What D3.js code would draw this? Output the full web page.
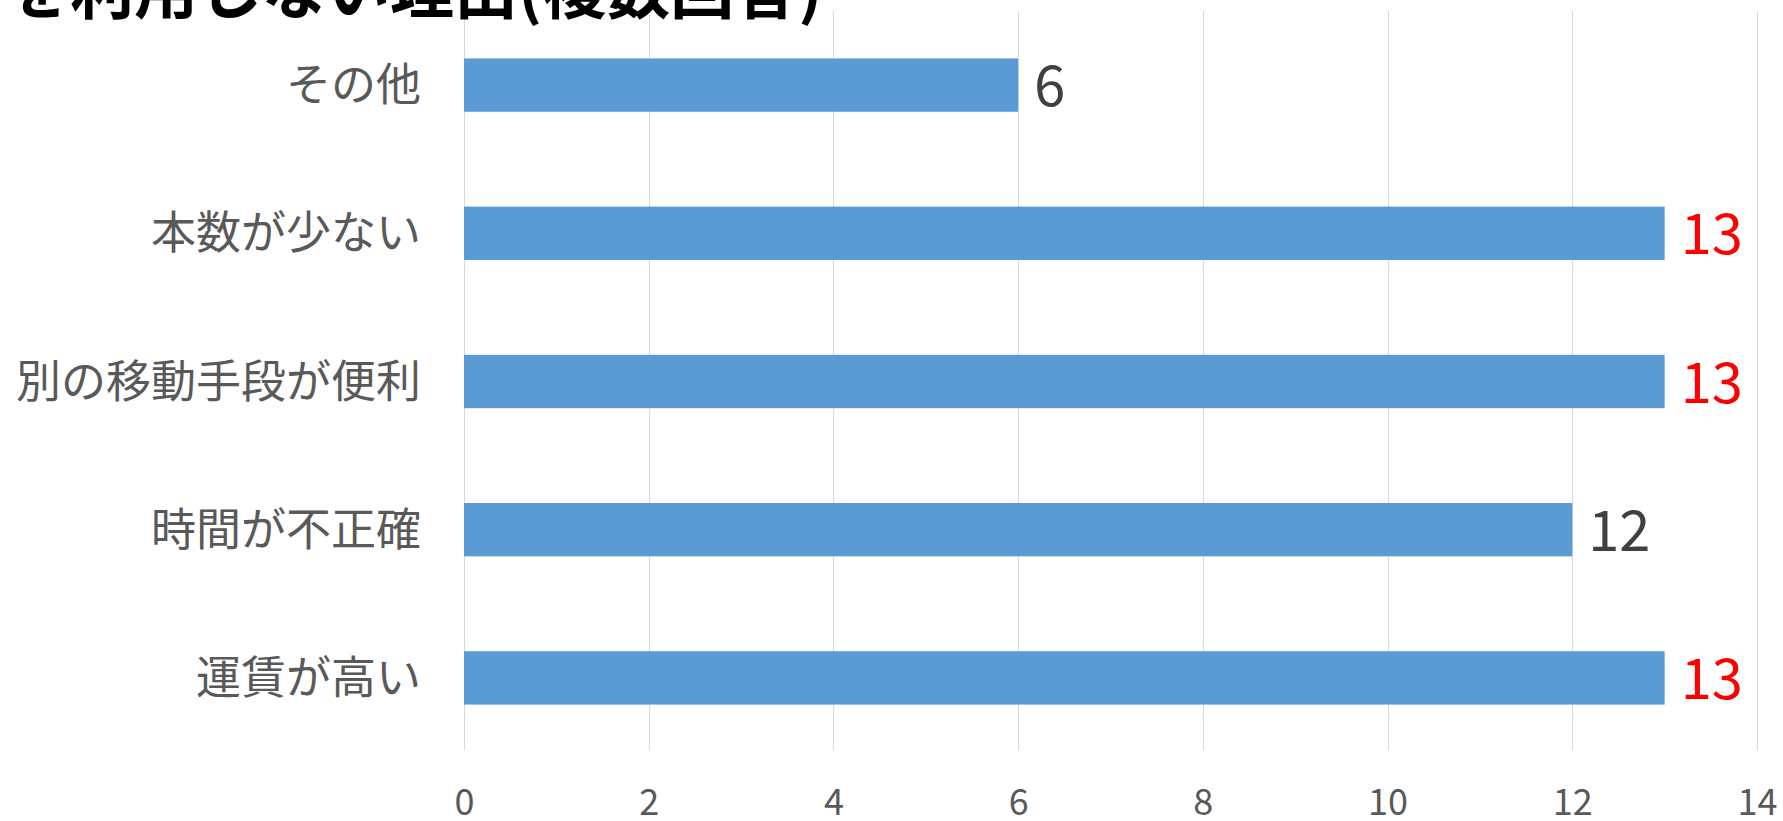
<!DOCTYPE html>
<html><head><meta charset="utf-8">
<script src="https://cdn.jsdelivr.net/npm/d3@7"></script>
<style>
html,body{margin:0;padding:0;background:#fff;overflow:hidden;}
svg{display:block;}
</style></head>
<body>
<svg id="chart" width="1783" height="821"></svg>
<script>
const titleText = "を利用しない理由(複数回答)";
const categories = ["その他", "本数が少ない", "別の移動手段が便利", "時間が不正確", "運賃が高い"];
const values = [6, 13, 13, 12, 13];
const highlight = [false, true, true, false, true];
const tickValues = [0, 2, 4, 6, 8, 10, 12, 14];

const font = "'Noto Sans CJK JP', 'Noto Sans', sans-serif";
const svg = d3.select("#chart");

const x = d3.scaleLinear().domain([0, 14]).range([464, 1757]);
const y = d3.scaleBand().domain(categories).range([11, 752]).paddingInner(0.64).paddingOuter(0.32);

// gridlines
svg.append("g").selectAll("line").data(tickValues).join("line")
  .attr("x1", d => Math.round(x(d)) + 0.5).attr("x2", d => Math.round(x(d)) + 0.5)
  .attr("y1", 11).attr("y2", 750)
  .attr("stroke", "#d9d9d9").attr("stroke-width", 1);

// bars
svg.append("g").selectAll("rect").data(categories).join("rect")
  .attr("x", x(0)).attr("y", d => y(d))
  .attr("width", (d, i) => x(values[i]) - x(0))
  .attr("height", y.bandwidth())
  .attr("fill", "#5b9bd5");

// value labels
svg.append("g").selectAll("text").data(categories).join("text")
  .attr("x", (d, i) => x(values[i]) + 16)
  .attr("y", d => y(d) + y.bandwidth() / 2 + 21)
  .attr("font-family", font).attr("font-size", 56)
  .attr("fill", (d, i) => highlight[i] ? "#ff0000" : "#404040")
  .text((d, i) => values[i]);

// category labels
svg.append("g").selectAll("text").data(categories).join("text")
  .attr("x", 421).attr("y", d => y(d) + y.bandwidth() / 2 + 16)
  .attr("text-anchor", "end")
  .attr("font-family", font).attr("font-size", 45)
  .attr("fill", "#595959")
  .text(d => d);

// x-axis tick labels
const axis = d3.axisBottom(x).tickValues(tickValues).tickSize(0).tickPadding(0);
const ag = svg.append("g").attr("transform", "translate(0,815)").call(axis);
ag.select(".domain").remove();
ag.selectAll("text").attr("font-family", font).attr("font-size", 36).attr("fill", "#595959").attr("y", 0).attr("dy", 0);

// title (partially cut off at top)
svg.append("text").attr("x", 6).attr("y", 13)
  .attr("font-family", font).attr("font-size", 64).attr("font-weight", "bold")
  .attr("fill", "#000").text(titleText);
</script>
</body></html>
